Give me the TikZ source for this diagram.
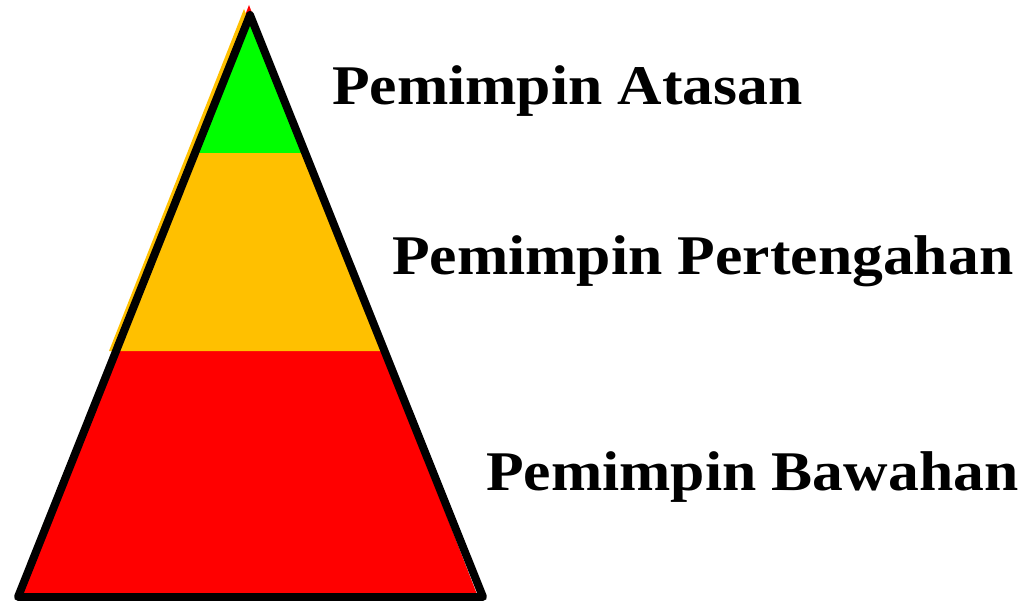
\documentclass[tikz,border=0pt]{standalone}
\usepackage{fontspec}
\setmainfont{Liberation Serif}
\newfontfamily\labelfont{Liberation Serif}[FakeStretch=1.1]
\usepackage{tikz}
\usetikzlibrary{positioning}
\definecolor{hijau}{RGB}{0,255,0}
\definecolor{jingga}{RGB}{255,192,0}
\definecolor{merah}{RGB}{255,0,0}
\tikzset{label text/.style={anchor=base west, inner sep=0pt,
  font=\labelfont\fontsize{56}{60}\selectfont\bfseries}}

\begin{document}
\begin{tikzpicture}[x=1pt, y=-1pt]
\useasboundingbox (0,0) rectangle (1022,601);
\coordinate (puncak) at (250,15);
\coordinate (kiri) at (18,597);
\coordinate (kanan) at (483,597);
\fill[merah] (249,5) -- (20,597) -- (478,597) -- cycle;
\fill[jingga] (244,9) -- (109,351) -- (382,351) -- (303,153) -- cycle;
\fill[hijau] (250,15) -- (198,153) -- (306,153) -- cycle;
\draw[line width=8pt, line join=round] (puncak) -- (kiri) -- (kanan) -- cycle;
\node[label text] (atasan) at (332,105) {Pemimpin Atasan};
\node[label text] (pertengahan) at (392,275) {Pemimpin Pertengahan};
\node[label text] (bawahan) at (486,490) {Pemimpin Bawahan};
\end{tikzpicture}
\end{document}
